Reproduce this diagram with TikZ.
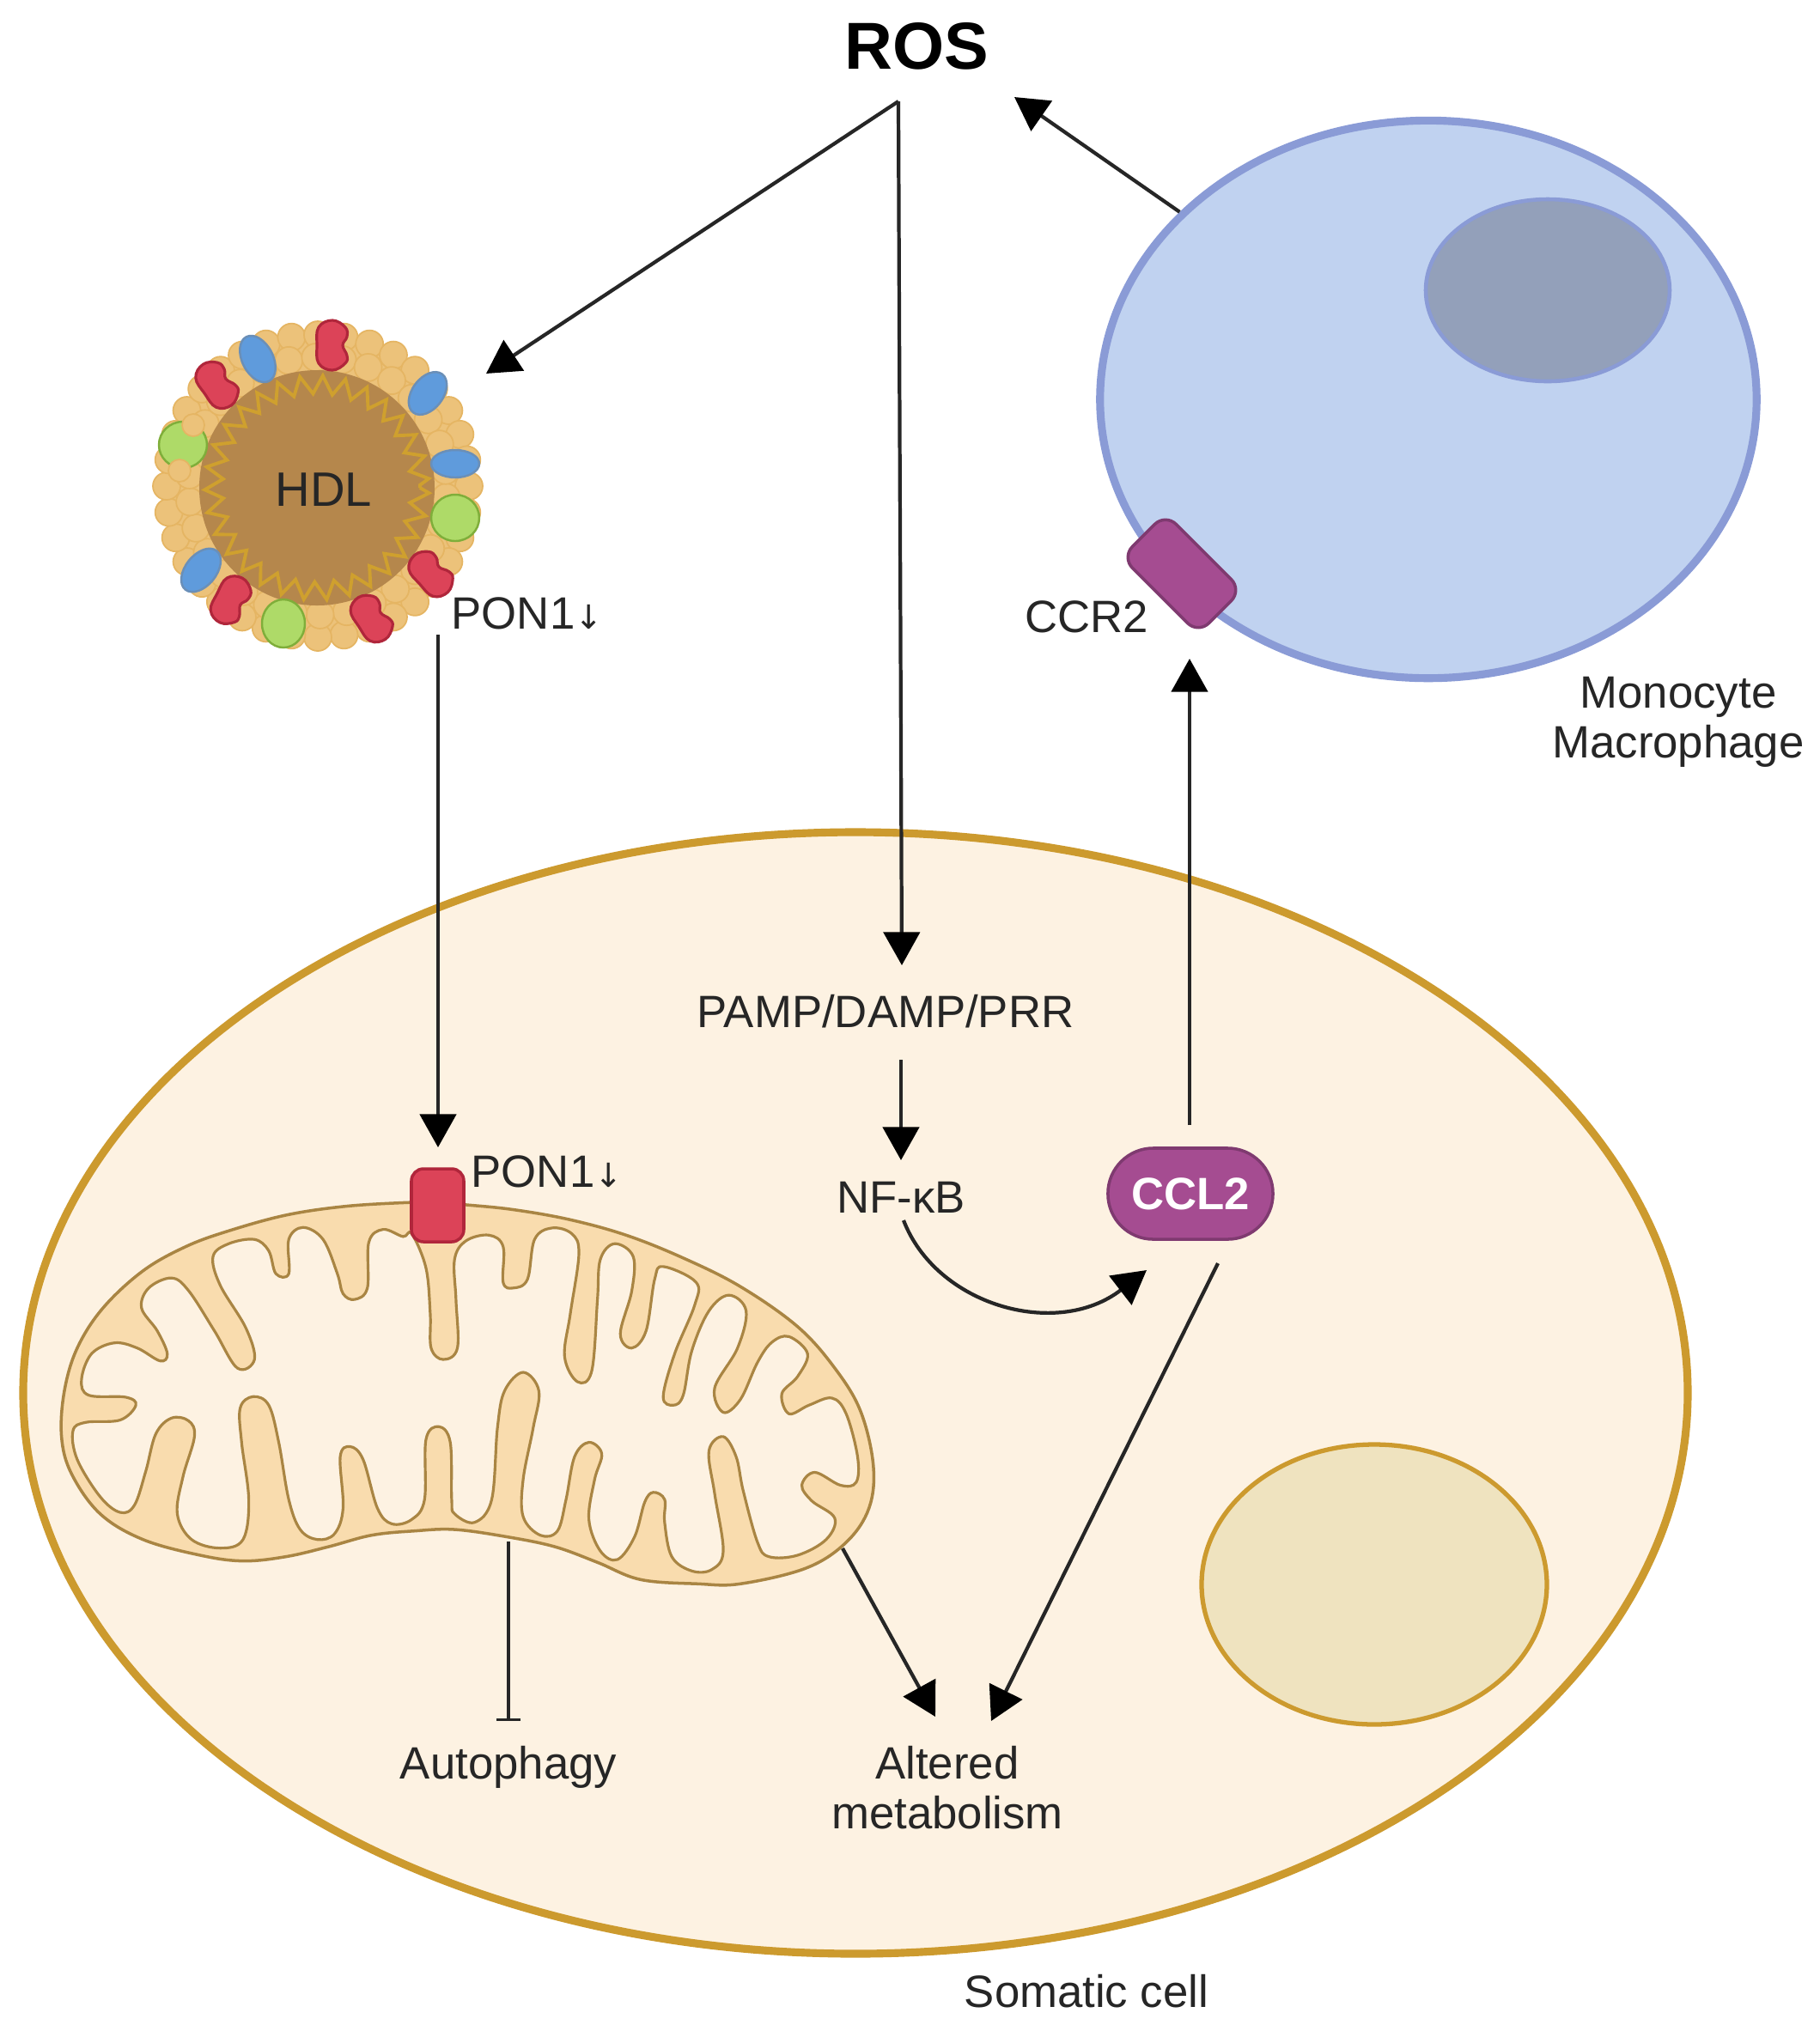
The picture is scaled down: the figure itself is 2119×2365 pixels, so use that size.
\documentclass[tikz,border=0pt]{standalone}
\usepackage{fontspec}
\setmainfont{Liberation Sans}
\newfontfamily\symfont{DejaVu Sans}
\usetikzlibrary{arrows.meta,shapes.geometric,decorations.pathmorphing}

\definecolor{cgold}{HTML}{CC9A2E}
\definecolor{ccream}{HTML}{FDF2E2}
\definecolor{cnucl}{HTML}{EFE3BF}
\definecolor{mfill}{HTML}{F9DCAE}
\definecolor{mline}{HTML}{A98543}
\definecolor{rfill}{HTML}{DC4358}
\definecolor{rline}{HTML}{B0263B}
\definecolor{pfill}{HTML}{A54C91}
\definecolor{pline}{HTML}{7F3A70}
\definecolor{bfill}{HTML}{C0D2F0}
\definecolor{bline}{HTML}{8A9BD6}
\definecolor{nfill}{HTML}{93A0BA}
\definecolor{lfill}{HTML}{ECC27A}
\definecolor{lline}{HTML}{E5B563}
\definecolor{hcore}{HTML}{B5874C}
\definecolor{hzig}{HTML}{CFA02E}
\definecolor{hblue}{HTML}{5F9BDC}
\definecolor{hblin}{HTML}{6A8FB8}
\definecolor{hgreen}{HTML}{AEDA68}
\definecolor{hglin}{HTML}{7FAE3A}

\tikzset{
  label/.style={font=\fontsize{15}{16.5}\selectfont,text=black!85,inner sep=0pt,align=center},
  arr/.style={line width=1.2pt,draw=black!85,-{Triangle[length=11pt,width=12pt,color=black]}},
  bead/.style={fill=lfill,draw=lline,line width=0.5pt},
  hblob/.style={fill=hblue,draw=hblin,line width=0.7pt},
  gblob/.style={fill=hgreen,draw=hglin,line width=0.7pt},
  rblob/.style={fill=rfill,draw=rline,line width=0.9pt},
}

\newcommand{\hdlbean}[3]{%
  \draw[rblob,shift={(#1,#2)},rotate=#3] plot[smooth cycle,tension=.7] coordinates
    {(0,-29) (15,-21) (17,-10) (12,0) (17,12) (15,21) (0,29) (-16,21) (-18,0) (-16,-21)};
}
\newcommand{\ponarrow}{{\symfont\fontsize{11}{11}\selectfont ↓}}

\begin{document}
\begin{tikzpicture}[x=0.01cm,y=-0.01cm]
  \useasboundingbox (0,0) rectangle (2119,2365);

  % somatic cell
  \draw[fill=ccream,draw=cgold,line width=2.6pt] (996,1622) ellipse [x radius=969,y radius=653];
  \draw[fill=cnucl,draw=cgold,line width=1.5pt] (1600,1845) ellipse [x radius=201,y radius=163];

  % mitochondrion
  \begin{scope}[shift={(50,1380)},x=0.003333cm,y=-0.003333cm]
    \draw[fill=mfill,draw=mline,line width=1pt] plot[smooth cycle,tension=.6] coordinates
      {(1380,60) (1470,68) (1640,85) (1840,120) (2040,175) (2240,255) (2440,355) (2640,495)
       (2770,640) (2860,790) (2905,980) (2890,1130) (2810,1250) (2670,1340) (2440,1395) (2290,1395)
       (2090,1380) (1940,1320) (1790,1265) (1620,1230) (1440,1205) (1300,1210) (1150,1225)
       (1000,1265) (850,1300) (700,1315) (550,1295) (350,1240) (200,1150) (100,1010) (65,880)
       (75,720) (120,570) (210,430) (350,300) (500,215) (650,160) (850,105) (1050,75) (1250,62)};
    \draw[fill=ccream,draw=mline,line width=0.9pt] plot[smooth cycle,tension=.6] coordinates
      {(1290,170) (1340,290) (1355,450) (1358,570) (1400,610) (1450,570) (1445,400) (1440,260)
       (1480,195) (1560,175) (1610,215) (1610,340) (1645,360) (1695,330) (1720,190) (1780,150)
       (1850,170) (1875,240) (1845,450) (1825,600) (1870,688) (1920,650) (1940,400) (1950,260)
       (2000,205) (2065,250) (2060,370) (2020,520) (2060,570) (2110,510) (2140,330) (2170,285)
       (2285,340) (2280,420) (2210,590) (2170,740) (2205,770) (2240,735) (2270,580) (2330,440)
       (2400,385) (2460,440) (2430,570) (2350,710) (2380,795) (2440,750) (2500,620) (2550,550)
       (2610,530) (2675,590) (2640,670) (2585,730) (2610,800) (2680,770) (2760,745) (2810,800)
       (2850,950) (2845,1040) (2790,1050) (2700,1005) (2655,1050) (2690,1105) (2770,1165)
       (2740,1240) (2640,1295) (2540,1300) (2500,1250) (2450,1070) (2425,950) (2380,880)
       (2330,930) (2350,1080) (2380,1280) (2340,1345) (2270,1350) (2200,1300) (2175,1180)
       (2175,1100) (2135,1075) (2105,1110) (2070,1230) (2010,1310) (1950,1280) (1910,1170)
       (1930,1030) (1955,940) (1910,900) (1860,950) (1830,1100) (1800,1210) (1740,1225)
       (1680,1160) (1680,1030) (1715,850) (1735,720) (1680,655) (1615,720) (1590,850) (1570,1100)
       (1510,1180) (1440,1150) (1430,1100) (1425,900) (1385,845) (1340,890) (1335,1100) (1290,1170)
       (1220,1185) (1170,1130) (1120,960) (1075,915) (1040,950) (1050,1130) (1020,1220) (960,1240)
       (900,1205) (860,1100) (825,900) (790,770) (735,740) (690,780) (695,900) (720,1100) (700,1240)
       (620,1270) (520,1240) (470,1150) (490,1020) (530,880) (510,825) (450,815) (395,870) (360,1000)
       (320,1120) (270,1145) (200,1090) (120,960) (105,860) (150,830) (270,822) (325,770) (290,742)
       (160,735) (135,680) (170,590) (250,552) (330,570) (410,615) (435,590) (400,510) (345,430)
       (370,360) (450,325) (510,370) (600,510) (680,640) (740,610) (710,500) (620,350) (595,250)
       (650,205) (740,190) (790,230) (815,310) (860,310) (860,190) (910,148) (980,190) (1030,310)
       (1050,380) (1090,400) (1135,360) (1140,200) (1190,155) (1260,180)};
  \end{scope}
  \draw[fill=rfill,draw=rline,line width=1pt,rounded corners=4pt] (479,1361) rectangle (540,1446);

  % monocyte
  \node[ellipse,draw=bline,fill=bfill,line width=2.6pt,inner sep=0pt,minimum width=7.64cm,minimum height=6.49cm] (mono) at (1663,465) {};
  \draw[fill=nfill,draw=bline,line width=1.3pt] (1802,338) ellipse [x radius=142,y radius=106];
  \draw[fill=pfill,draw=pline,line width=1pt,rounded corners=5pt,rotate around={-45:(1376,668)}] (1313,632) rectangle ++(126,72);

  % HDL
  \fill[lfill] (370,566) circle [radius=178];
  \foreach \a in {0,10,...,350}
    \draw[bead] ({370+176*cos(\a)},{566+176*sin(\a)}) circle [radius=16];
  \foreach \a in {5,17,...,357}
    \draw[bead] ({370+150*cos(\a)},{566+150*sin(\a)}) circle [radius=16];
  \draw[fill=hcore,draw=none] (369,568) circle [radius=137];
  \draw[draw=hzig,line width=1.1pt,decorate,decoration={zigzag,segment length=7pt,amplitude=3pt}] (369,568) circle [radius=120];
  \draw[hblob,rotate around={27:(300,418)}] (300,418) ellipse [x radius=18,y radius=29];
  \draw[hblob,rotate around={-37:(498,458)}] (498,458) ellipse [x radius=18,y radius=28];
  \draw[hblob,rotate around={-39:(234,664)}] (234,664) ellipse [x radius=18,y radius=29];
  \draw[hblob] (530,540) ellipse [x radius=28,y radius=16];
  \draw[gblob] (213,518) ellipse [x radius=28,y radius=27];
  \draw[gblob] (530,603) ellipse [x radius=28,y radius=27];
  \draw[gblob] (330,726) ellipse [x radius=25,y radius=28];
  \draw[bead] (225,495) circle [radius=13];
  \draw[bead] (209,548) circle [radius=13];
  \hdlbean{387}{402}{0}
  \hdlbean{253}{448}{35}
  \hdlbean{502}{668}{42}
  \hdlbean{433}{720}{33}
  \hdlbean{269}{699}{-27}
  \node[label,font=\fontsize{16}{18}\selectfont] (hdl) at (377,570) {HDL};

  % labels
  \node[inner sep=0pt,font=\fontsize{22}{24}\selectfont\bfseries] (ros) at (1067,54) {ROS};
  \node[label,anchor=west] (ponhdl) at (525,714) {PON1\ponarrow};
  \node[label,anchor=west] (ponmito) at (548,1364) {PON1\ponarrow};
  \node[label] (pamp) at (1031,1178) {PAMP/DAMP/PRR};
  \node[label] (nfkb) at (1049,1394) {NF-κB};
  \node[rounded corners=15pt,fill=pfill,draw=pline,line width=1pt,minimum width=1.92cm,minimum height=1.06cm,inner sep=0pt,text=white,font=\fontsize{15}{17}\selectfont\bfseries] (ccl) at (1386,1390) {CCL2};
  \node[label] (ccr) at (1265,718) {CCR2};
  \node[label] (monolab) at (1954,841) {Monocyte\\Macrophage};
  \node[label] (autophagy) at (592,2058) {Autophagy};
  \node[label] (altered) at (1103,2082) {Altered\\metabolism};
  \node[label] (somatic) at (1265,2319) {Somatic cell};

  % connector ends
  \coordinate (rosfoot) at (1046,118);
  \coordinate (hdltip) at (566,435);
  \coordinate (pamptop) at (1050,1124);
  \coordinate (rosback) at (1181,113);
  \coordinate (ponfoot) at (510,739);
  \coordinate (pontip) at (510,1336);
  \coordinate (pampfoot) at (1049,1234);
  \coordinate (nftop) at (1049,1351);
  \coordinate (nffoot) at (1052,1421);
  \coordinate (ccltip) at (1335,1479);
  \coordinate (cclup) at (1385,1310);
  \coordinate (ccrtip) at (1385,767);
  \coordinate (cclfoot) at (1418,1471);
  \coordinate (alttipb) at (1154,2004);
  \coordinate (mitoout) at (981,1803);
  \coordinate (alttipa) at (1089,1999);
  \coordinate (mitofoot) at (592,1795);
  \coordinate (autotop) at (592,2004);

  % connectors
  \draw[arr] (rosfoot) -- (hdltip);
  \draw[arr] (rosfoot) -- (pamptop);
  \draw[arr] (mono.143) -- (rosback);
  \draw[arr] (ponfoot) -- (pontip);
  \draw[arr] (pampfoot) -- (nftop);
  \draw[arr] (nffoot) .. controls (1090,1520) and (1230,1560) .. (ccltip);
  \draw[arr] (cclup) -- (ccrtip);
  \draw[arr] (cclfoot) -- (alttipb);
  \draw[arr] (mitoout) -- (alttipa);
  \draw[line width=1pt,draw=black!85,-{Bar[width=8pt]}] (mitofoot) -- (autotop);
\end{tikzpicture}
\end{document}
